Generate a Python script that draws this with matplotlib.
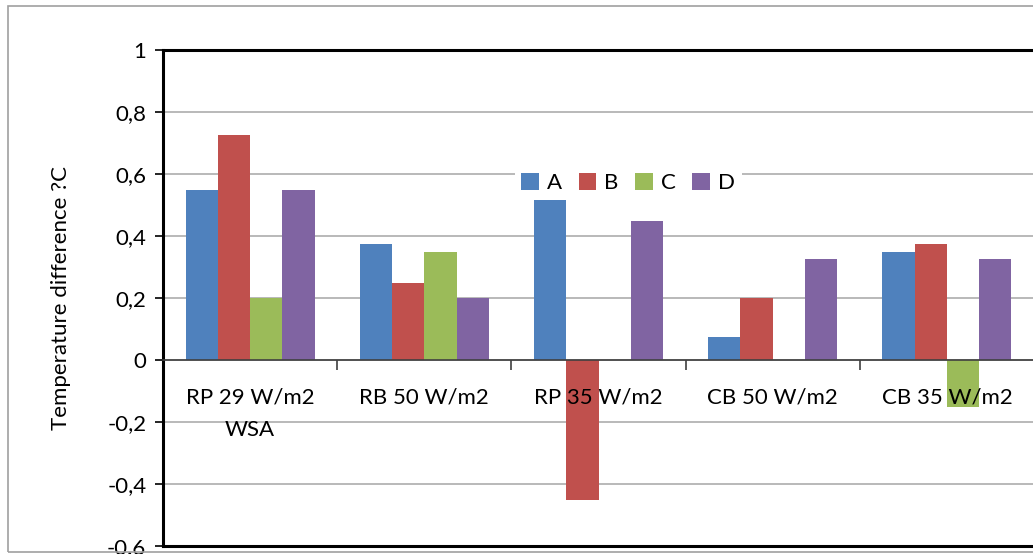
import numpy as np
import matplotlib.pyplot as plt
from matplotlib.ticker import FuncFormatter, FixedLocator
from matplotlib.patches import Rectangle

plt.rcParams['font.family'] = ['Lato', 'DejaVu Sans']

categories = ['RP 29 W/m2\nWSA', 'RB 50 W/m2', 'RP 35 W/m2', 'CB 50 W/m2', 'CB 35 W/m2']
series_names = ['A', 'B', 'C', 'D']
vals_a = [0.55, 0.375, 0.525, 0.075, 0.35]
vals_b = [0.725, 0.25, -0.45, 0.2, 0.375]
vals_c = [0.2, 0.35, 0.0, 0.0, -0.15]
vals_d = [0.55, 0.2, 0.45, 0.325, 0.325]
colors = ['#4F81BD', '#C0504D', '#9BBB59', '#8064A2']

ymin, ymax = -0.6, 1.0
fs = 16

fig = plt.figure(figsize=(10.33, 5.54), dpi=100)
# outer chart border (Excel chart area)
fig.patches.append(Rectangle((8 / 1033, 2 / 554), 1.2, 546 / 554, transform=fig.transFigure,
                             fill=False, edgecolor='#a0a0a0', lw=1.2))
ax = fig.add_axes([163 / 1033, 8 / 554, 871 / 1033, 496 / 554])

x = np.arange(len(categories))
w = 0.185
for i, vals in enumerate([vals_a, vals_b, vals_c, vals_d]):
    ax.bar(x + (i - 1.5) * w, vals, width=w, color=colors[i], label=series_names[i], zorder=3)

ax.set_xlim(-0.5, len(categories) - 0.5)
ax.set_ylim(ymin, ymax)
ax.set_yticks(np.arange(ymin, ymax + 0.01, 0.2))
ax.yaxis.set_major_formatter(FuncFormatter(lambda v, p: ('%g' % round(v, 1)).replace('.', ',')))
ax.yaxis.grid(True, color='#a6a6a6', lw=1.1, zorder=0)
ax.tick_params(axis='y', direction='out', length=6, width=1.2, labelsize=fs, pad=6)
ax.tick_params(axis='x', bottom=False, labelbottom=False)
for s in ax.spines.values():
    s.set_linewidth(2.2)
    s.set_color('black')

# category axis at zero
sec = ax.secondary_xaxis((0 - ymin) / (ymax - ymin))
sec.set_zorder(10)
sec.spines['bottom'].set_linewidth(1.2)
sec.spines['bottom'].set_color('#404040')
sec.xaxis.set_major_locator(FixedLocator(x[:-1] + 0.5))
sec.xaxis.set_major_formatter(FuncFormatter(lambda v, p: ''))
sec.xaxis.set_minor_locator(FixedLocator(x))
sec.set_xticklabels(categories, minor=True)
sec.tick_params(axis='x', which='major', direction='out', length=7, width=1.2, color='#404040')
sec.tick_params(axis='x', which='minor', length=0, labelsize=fs, pad=20)
for t in sec.get_xticklabels(minor=True):
    t.set_linespacing(1.75)

ax.set_ylabel('Temperature difference ?C', fontsize=fs, labelpad=26)

leg = ax.legend(loc='center', bbox_to_anchor=(0.534, 0.732), ncol=4, frameon=True,
                fontsize=fs, handlelength=0.8, handleheight=0.8, handletextpad=0.35,
                columnspacing=0.75, borderpad=0.3)
leg.get_frame().set_edgecolor('none')
leg.get_frame().set_facecolor('white')
leg.get_frame().set_alpha(1)

fig.savefig('out.png', dpi=100)
